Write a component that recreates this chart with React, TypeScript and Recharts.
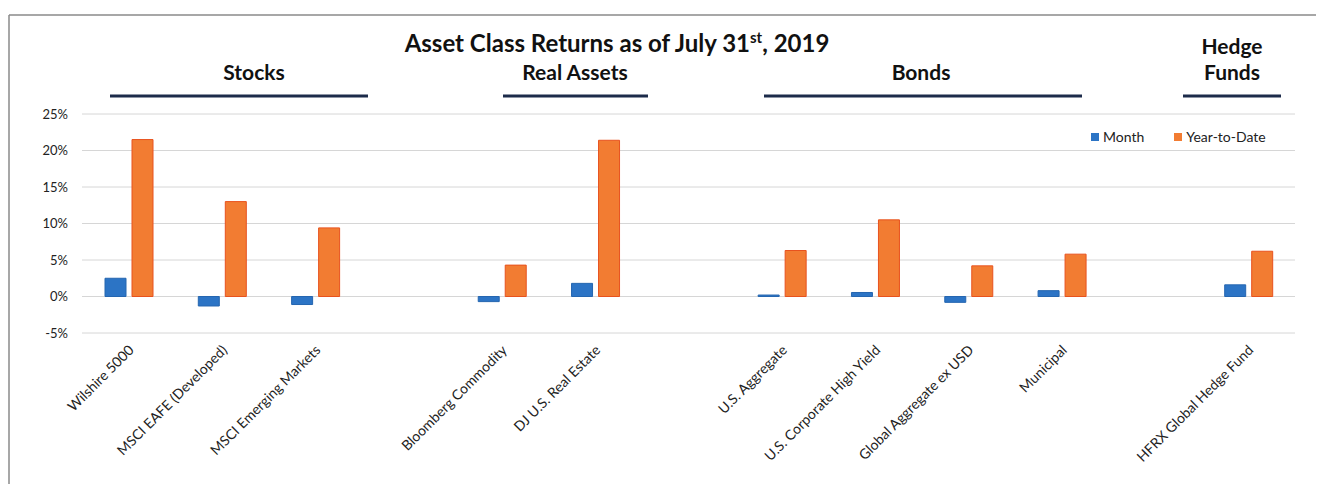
import React from "react";
import { BarChart, Bar, XAxis, YAxis, CartesianGrid, Legend } from "recharts";

const categories = [
  "Wilshire 5000",
  "MSCI EAFE (Developed)",
  "MSCI Emerging Markets",
  " ",
  "Bloomberg Commodity",
  "DJ U.S. Real Estate",
  "  ",
  "U.S. Aggregate",
  "U.S. Corporate High Yield",
  "Global Aggregate ex USD",
  "Municipal",
  "   ",
  "HFRX Global Hedge Fund",
];
const monthValues: (number | null)[] = [2.5, -1.3, -1.1, null, -0.7, 1.8, null, 0.2, 0.55, -0.8, 0.8, null, 1.6];
const ytdValues: (number | null)[] = [21.5, 13.0, 9.4, null, 4.3, 21.4, null, 6.3, 10.5, 4.2, 5.8, null, 6.2];
const yTicks = [-5, 0, 5, 10, 15, 20, 25];

const groups = [
  { label: ["Stocks"], cx: 246, x1: 102, x2: 360 },
  { label: ["Real Assets"], cx: 567, x1: 495, x2: 640 },
  { label: ["Bonds"], cx: 913, x1: 756, x2: 1074 },
  { label: ["Hedge", "Funds"], cx: 1224, x1: 1175, x2: 1273 },
];

const data = categories.map((name, i) => ({
  name,
  month: monthValues[i],
  ytd: ytdValues[i],
}));

const FONT = "Lato, 'Open Sans', sans-serif";
const BLUE = "#2C74C5";
const ORANGE = "#F27C32";

const XTick = (props: any) => {
  const { x, y, payload } = props;
  const label = String(payload.value).trim();
  if (!label) return null;
  return (
    <g transform={`translate(${x - 1},${y + 3})`}>
      <text
        textAnchor="end"
        transform="rotate(-45)"
        dy={10}
        fontSize={14}
        fill="#222"
        fontFamily={FONT}
      >
        {label}
      </text>
    </g>
  );
};

const LegendContent = () => (
  <div style={{ display: "flex", fontFamily: FONT, fontSize: 14, color: "#222", alignItems: "center", whiteSpace: "nowrap" }}>
    <span style={{ display: "inline-block", width: 8, height: 8, background: BLUE, marginRight: 4 }} />
    <span style={{ marginRight: 30 }}>Month</span>
    <span style={{ display: "inline-block", width: 8, height: 8, background: ORANGE, marginRight: 4 }} />
    <span>Year-to-Date</span>
  </div>
);

export default function App() {
  return (
    <div style={{ position: "relative", width: 1316, height: 476, background: "#fff" }}>
      <BarChart
        width={1316}
        height={476}
        data={data}
        margin={{ top: 106, right: 29, bottom: 31, left: 14 }}
        barSize={21}
        barGap={6}
      >
        <CartesianGrid vertical={false} stroke="#d6d6d6" />
        <XAxis
          dataKey="name"
          axisLine={false}
          tickLine={false}
          interval={0}
          height={120}
          tick={<XTick />}
        />
        <YAxis
          domain={[-5, 25]}
          ticks={yTicks}
          width={60}
          axisLine={false}
          tickLine={false}
          tickSize={0}
          tickMargin={14}
          tickFormatter={(v: number) => `${v}%`}
          tick={{ fontSize: 13, fill: "#222", fontFamily: FONT }}
        />
        <Legend
          layout="horizontal"
          verticalAlign="middle"
          align="center"
          content={<LegendContent />}
          wrapperStyle={{ position: "absolute", left: 1083, top: 120, width: 210, height: 18 }}
        />
        <Bar dataKey="month" name="Month" fill={BLUE} stroke="#2566b0" strokeWidth={1} isAnimationActive={false} />
        <Bar dataKey="ytd" name="Year-to-Date" fill={ORANGE} stroke="#E8521E" strokeWidth={1} isAnimationActive={false} />
      </BarChart>
      <svg
        width={1316}
        height={476}
        style={{ position: "absolute", left: 0, top: 0, pointerEvents: "none" }}
      >
        <line x1={1} y1={7} x2={1316} y2={7} stroke="#8a8a8a" strokeWidth={1.5} />
        <line x1={1} y1={7} x2={1} y2={476} stroke="#8a8a8a" strokeWidth={1.5} />
        <text x={609} y={44} textAnchor="middle" fontFamily={FONT} fontWeight={700} fontSize={24} fill="#111">
          Asset Class Returns as of July 31
          <tspan fontSize={15} dy={-9}>st</tspan>
          <tspan dy={9}>, 2019</tspan>
        </text>
        {groups.map((g, i) => (
          <g key={i}>
            {g.label.map((l, j) => (
              <text
                key={j}
                x={g.cx}
                y={72 - (g.label.length - 1 - j) * 26}
                textAnchor="middle"
                fontFamily={FONT}
                fontWeight={700}
                fontSize={21}
                fill="#111"
              >
                {l}
              </text>
            ))}
            <line x1={g.x1} y1={88} x2={g.x2} y2={88} stroke="#1C2B4A" strokeWidth={3} />
          </g>
        ))}
      </svg>
    </div>
  );
}
